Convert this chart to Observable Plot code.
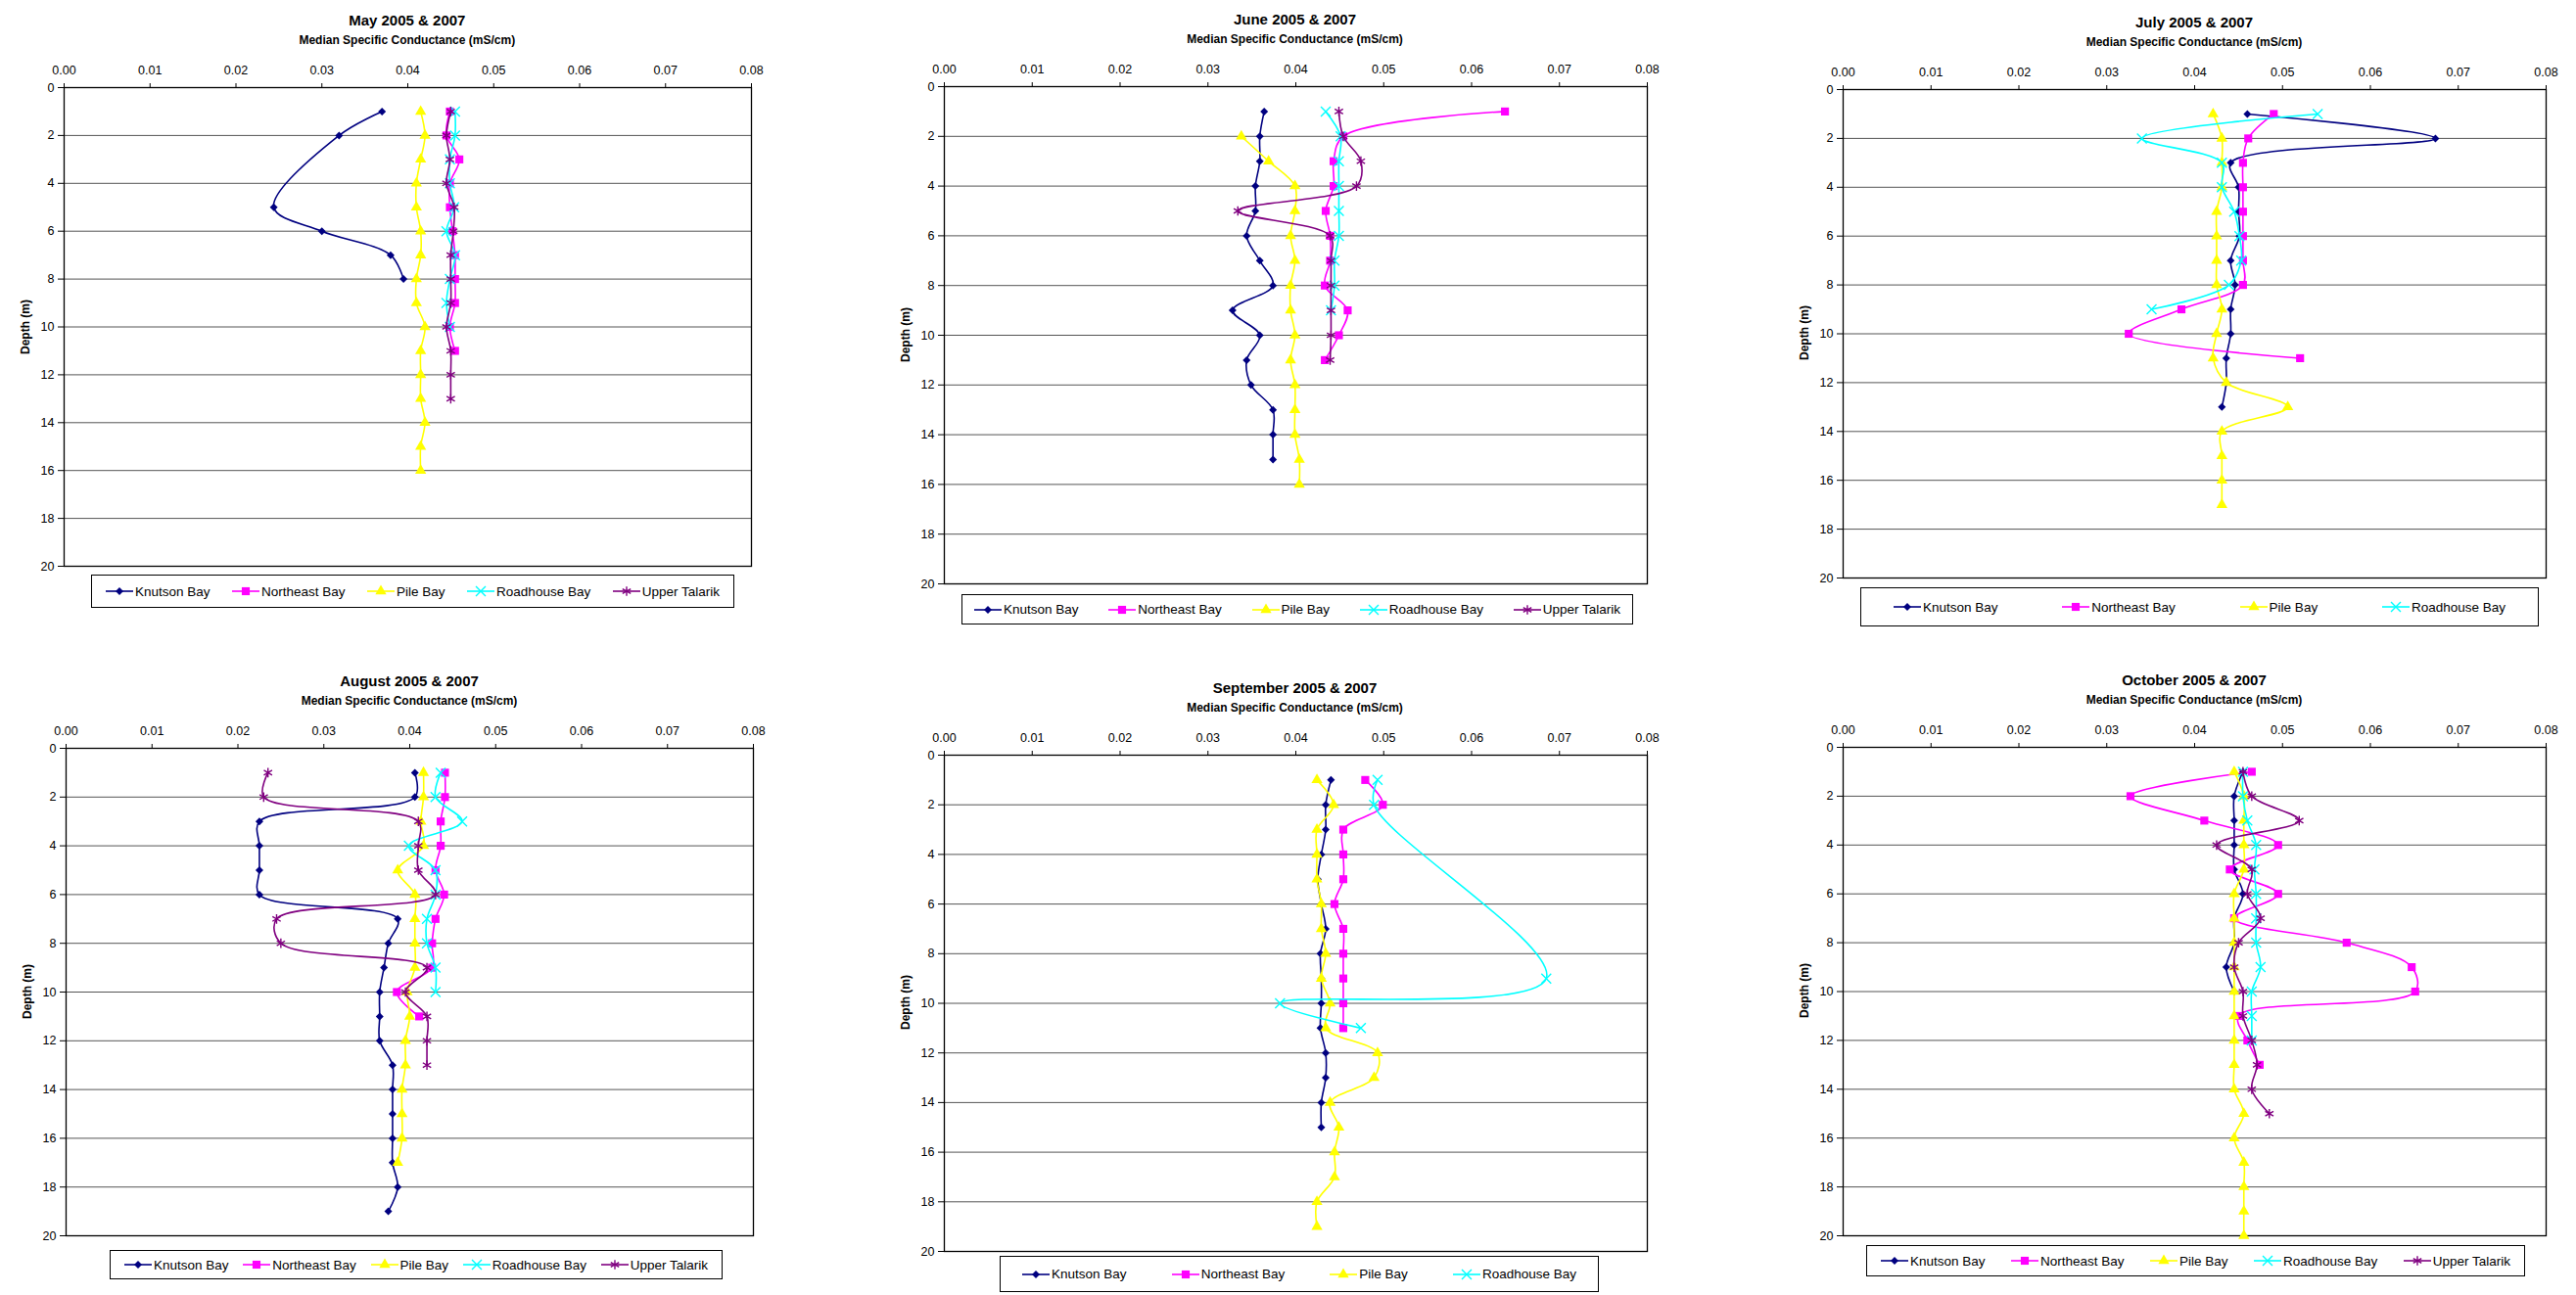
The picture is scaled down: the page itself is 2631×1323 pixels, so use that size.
<!DOCTYPE html>
<html><head><meta charset="utf-8">
<script src="https://cdn.jsdelivr.net/npm/d3@7"></script>
<script src="https://cdn.jsdelivr.net/npm/@observablehq/plot@0.6"></script>
<style>
html,body{margin:0;padding:0;background:#fff;}
#page{position:relative;width:2631px;height:1323px;overflow:hidden;font-family:"Liberation Sans",Arial,sans-serif;color:#000;background:#fff;}
.title{position:absolute;transform:translate(-50%,-50%);font-weight:bold;font-size:15px;white-space:nowrap;}
.subtitle{position:absolute;transform:translate(-50%,-50%);font-weight:bold;font-size:12px;white-space:nowrap;}
.ylabel{position:absolute;transform:translate(-50%,-50%) rotate(-90deg);font-weight:bold;font-size:12px;white-space:nowrap;}
.legend{position:absolute;box-sizing:border-box;border:1px solid #000;display:flex;align-items:center;justify-content:space-between;font-size:13.5px;background:#fff;}
.item{display:flex;align-items:center;white-space:nowrap;}
.item svg{margin-right:2px;overflow:visible;}
</style></head><body><div id="page"></div>
<script>
// ---------- axis ticks ----------
const conductanceTicks = [0, 0.01, 0.02, 0.03, 0.04, 0.05, 0.06, 0.07, 0.08];
const depthTicks = [0, 2, 4, 6, 8, 10, 12, 14, 16, 18, 20];
const gridDepths = [2, 4, 6, 8, 10, 12, 14, 16, 18];
const sites = ["Knutson Bay", "Northeast Bay", "Pile Bay", "Roadhouse Bay", "Upper Talarik"];

// ---------- data: [depth (m), median specific conductance (mS/cm)] ----------
// May 2005 & 2007
const mayKnutson = [[1,0.0370],[2,0.0320],[5,0.0244],[6,0.0300],[7,0.0380],[8,0.0395]];
const mayNortheast = [[1,0.0449],[2,0.0445],[3,0.0460],[4,0.0449],[5,0.0449],[6,0.0452],[7,0.0455],[8,0.0455],[9,0.0455],[10,0.0449],[11,0.0455]];
const mayPile = [[1,0.0415],[2,0.0420],[3,0.0415],[4,0.0410],[5,0.0410],[6,0.0415],[7,0.0415],[8,0.0410],[9,0.0410],[10,0.0420],[11,0.0415],[12,0.0415],[13,0.0415],[14,0.0420],[15,0.0415],[16,0.0415]];
const mayRoadhouse = [[1,0.0455],[2,0.0455],[3,0.0449],[4,0.0449],[5,0.0454],[6,0.0445],[7,0.0455],[8,0.0449],[9,0.0445],[10,0.0449]];
const mayUpperTalarik = [[1,0.0450],[2,0.0445],[3,0.0449],[4,0.0445],[5,0.0454],[6,0.0453],[7,0.0450],[8,0.0450],[9,0.0450],[10,0.0445],[11,0.0450],[12,0.0450],[13,0.0450]];
// June 2005 & 2007
const junKnutson = [[1,0.0364],[2,0.0359],[3,0.0359],[4,0.0354],[5,0.0354],[6,0.0344],[7,0.0359],[8,0.0374],[9,0.0328],[10,0.0359],[11,0.0344],[12,0.0349],[13,0.0374],[14,0.0374],[15,0.0374]];
const junNortheast = [[1,0.0638],[2,0.0454],[3,0.0443],[4,0.0443],[5,0.0434],[6,0.0439],[7,0.0439],[8,0.0433],[9,0.0459],[10,0.0449],[11,0.0433]];
const junPile = [[2,0.0338],[3,0.0369],[4,0.0399],[5,0.0399],[6,0.0394],[7,0.0399],[8,0.0394],[9,0.0394],[10,0.0399],[11,0.0394],[12,0.0399],[13,0.0399],[14,0.0399],[15,0.0404],[16,0.0404]];
const junRoadhouse = [[1,0.0434],[2,0.0451],[3,0.0449],[4,0.0449],[5,0.0449],[6,0.0449],[7,0.0444],[8,0.0444],[9,0.0440]];
const junUpperTalarik = [[1,0.0449],[2,0.0454],[3,0.0474],[4,0.0469],[5,0.0334],[6,0.0439],[7,0.0440],[8,0.0440],[9,0.0440],[10,0.0440],[11,0.0439]];
// July 2005 & 2007
const julKnutson = [[1,0.0460],[2,0.0674],[3,0.0441],[4,0.0450],[5,0.0450],[6,0.0451],[7,0.0441],[8,0.0446],[9,0.0441],[10,0.0441],[11,0.0436],[12,0.0436],[13,0.0431]];
const julNortheast = [[1,0.0490],[2,0.0461],[3,0.0455],[4,0.0455],[5,0.0455],[6,0.0455],[7,0.0455],[8,0.0455],[9,0.0385],[10,0.0325],[11,0.0520]];
const julPile = [[1,0.0421],[2,0.0431],[3,0.0431],[4,0.0431],[5,0.0425],[6,0.0425],[7,0.0425],[8,0.0425],[9,0.0431],[10,0.0425],[11,0.0421],[12,0.0436],[13,0.0506],[14,0.0431],[15,0.0431],[16,0.0431],[17,0.0431]];
const julRoadhouse = [[1,0.0540],[2,0.0340],[3,0.0431],[4,0.0431],[5,0.0445],[6,0.0451],[7,0.0453],[8,0.0439],[9,0.0351]];
// August 2005 & 2007
const augKnutson = [[1,0.0406],[2,0.0406],[3,0.0225],[4,0.0225],[5,0.0225],[6,0.0225],[7,0.0386],[8,0.0375],[9,0.0370],[10,0.0365],[11,0.0365],[12,0.0365],[13,0.0380],[14,0.0380],[15,0.0380],[16,0.0380],[17,0.0380],[18,0.0386],[19,0.0375]];
const augNortheast = [[1,0.0441],[2,0.0441],[3,0.0436],[4,0.0436],[5,0.0430],[6,0.0440],[7,0.0430],[8,0.0426],[9,0.0426],[10,0.0385],[11,0.0411]];
const augPile = [[1,0.0416],[2,0.0416],[3,0.0413],[4,0.0416],[5,0.0386],[6,0.0406],[7,0.0406],[8,0.0406],[9,0.0406],[10,0.0397],[11,0.0400],[12,0.0395],[13,0.0395],[14,0.0391],[15,0.0391],[16,0.0391],[17,0.0386]];
const augRoadhouse = [[1,0.0436],[2,0.0430],[3,0.0461],[4,0.0399],[5,0.0430],[6,0.0430],[7,0.0420],[8,0.0420],[9,0.0430],[10,0.0430]];
const augUpperTalarik = [[1,0.0235],[2,0.0230],[3,0.0410],[4,0.0410],[5,0.0410],[6,0.0430],[7,0.0245],[8,0.0250],[9,0.0420],[10,0.0395],[11,0.0420],[12,0.0420],[13,0.0420]];
// September 2005 & 2007
const sepKnutson = [[1,0.0440],[2,0.0434],[3,0.0434],[4,0.0429],[5,0.0425],[6,0.0429],[7,0.0434],[8,0.0428],[9,0.0429],[10,0.0429],[11,0.0428],[12,0.0434],[13,0.0434],[14,0.0429],[15,0.0429]];
const sepNortheast = [[1,0.0479],[2,0.0499],[3,0.0454],[4,0.0454],[5,0.0454],[6,0.0444],[7,0.0454],[8,0.0454],[9,0.0454],[10,0.0454],[11,0.0454]];
const sepPile = [[1,0.0424],[2,0.0443],[3,0.0424],[4,0.0424],[5,0.0424],[6,0.0429],[7,0.0429],[8,0.0434],[9,0.0429],[10,0.0439],[11,0.0434],[12,0.0493],[13,0.0489],[14,0.0439],[15,0.0449],[16,0.0444],[17,0.0444],[18,0.0424],[19,0.0424]];
const sepRoadhouse = [[1,0.0493],[2,0.0489],[9,0.0685],[10,0.0382],[11,0.0474]];
// October 2005 & 2007
const octKnutson = [[1,0.0455],[2,0.0445],[3,0.0445],[4,0.0445],[5,0.0445],[6,0.0455],[7,0.0445],[8,0.0445],[9,0.0436],[10,0.0445]];
const octNortheast = [[1,0.0465],[2,0.0327],[3,0.0411],[4,0.0495],[5,0.0440],[6,0.0495],[7,0.0445],[8,0.0573],[9,0.0647],[10,0.0651],[11,0.0450],[12,0.0460],[13,0.0474]];
const octPile = [[1,0.0445],[2,0.0456],[3,0.0456],[4,0.0456],[5,0.0456],[6,0.0445],[7,0.0445],[8,0.0445],[9,0.0445],[10,0.0445],[11,0.0445],[12,0.0445],[13,0.0445],[14,0.0445],[15,0.0456],[16,0.0445],[17,0.0456],[18,0.0456],[19,0.0456],[20,0.0456]];
const octRoadhouse = [[1,0.0455],[2,0.0455],[3,0.0460],[4,0.0470],[5,0.0468],[6,0.0470],[7,0.0470],[8,0.0470],[9,0.0475],[10,0.0465],[11,0.0465],[12,0.0465]];
const octUpperTalarik = [[1,0.0455],[2,0.0465],[3,0.0519],[4,0.0425],[5,0.0465],[6,0.0460],[7,0.0475],[8,0.0450],[9,0.0445],[10,0.0455],[11,0.0455],[12,0.0465],[13,0.0471],[14,0.0465],[15,0.0485]];

// ---------- styles ----------
const siteStyle = {
  "Knutson Bay":   {color: "#000080", symbol: "diamond2", r: 3.6, filled: true},
  "Northeast Bay": {color: "#FF00FF", symbol: "square",   r: 4.6, filled: true},
  "Pile Bay":      {color: "#FFFF00", symbol: "triangle", r: 4.2, filled: true},
  "Roadhouse Bay": {color: "#00FFFF", symbol: "times",    r: 4.6, filled: false},
  "Upper Talarik": {color: "#800080", symbol: "asterisk", r: 4.6, filled: false}
};
const d3Sym = {diamond2: d3.symbolDiamond2, square: d3.symbolSquare, triangle: d3.symbolTriangle, times: d3.symbolTimes, asterisk: d3.symbolAsterisk};

const panels = [
  {title: "May 2005 & 2007", x0: 64.8, x1: 766.8, y0: 89.3, y1: 578,
   series: [mayKnutson, mayNortheast, mayPile, mayRoadhouse, mayUpperTalarik], names: sites,
   legend: {l: 93, r: 750, t: 587, b: 621, pad: 14}},
  {title: "June 2005 & 2007", x0: 963.5, x1: 1681.5, y0: 87.6, y1: 595.6,
   series: [junKnutson, junNortheast, junPile, junRoadhouse, junUpperTalarik], names: sites,
   legend: {l: 982, r: 1668, t: 607, b: 638, pad: 12}},
  {title: "July 2005 & 2007", x0: 1882, x1: 2600, y0: 90.5, y1: 589,
   series: [julKnutson, julNortheast, julPile, julRoadhouse], names: sites.slice(0, 4),
   legend: {l: 1900, r: 2593, t: 600, b: 640, pad: 33}},
  {title: "August 2005 & 2007", x0: 67, x1: 769, y0: 763.5, y1: 1261.7,
   series: [augKnutson, augNortheast, augPile, augRoadhouse, augUpperTalarik], names: sites,
   legend: {l: 112, r: 738, t: 1277, b: 1307, pad: 14}},
  {title: "September 2005 & 2007", x0: 963.5, x1: 1681.5, y0: 770.6, y1: 1277.6,
   series: [sepKnutson, sepNortheast, sepPile, sepRoadhouse], names: sites.slice(0, 4),
   legend: {l: 1021, r: 1633, t: 1283, b: 1320, pad: 22}},
  {title: "October 2005 & 2007", x0: 1882, x1: 2600, y0: 762.8, y1: 1261.7,
   series: [octKnutson, octNortheast, octPile, octRoadhouse, octUpperTalarik], names: sites,
   legend: {l: 1906, r: 2579, t: 1272, b: 1304, pad: 14}}
];

const page = document.getElementById("page");
const FONT = '"Liberation Sans", Arial, sans-serif';

function addDiv(cls, text, x, y) {
  const d = document.createElement("div");
  d.className = cls; d.textContent = text;
  d.style.left = x + "px"; d.style.top = y + "px";
  page.appendChild(d);
}

for (const p of panels) {
  const ML = 70, MT = 34, MR = 8, MB = 6;
  const width = Math.round(ML + (p.x1 - p.x0) + MR);
  const height = Math.round(MT + (p.y1 - p.y0) + MB);
  const marks = [
    Plot.ruleY(gridDepths, {stroke: "#555", strokeWidth: 1}),
    Plot.frame({stroke: "#000", strokeWidth: 1.3}),
    Plot.axisX({anchor: "top", ticks: conductanceTicks, tickFormat: d3.format(".2f"), tickSize: 5, tickPadding: 9, label: null, stroke: "#000"}),
    Plot.axisY({anchor: "left", ticks: depthTicks, tickSize: 6, tickPadding: 4, label: null, stroke: "#000"})
  ];
  p.series.forEach((data, i) => {
    const s = siteStyle[p.names[i]];
    const rows = data.map(([d, v]) => ({depth: d, value: v}));
    marks.push(Plot.line(rows, {x: "value", y: "depth", stroke: s.color, strokeWidth: 1.6, curve: "catmull-rom"}));
    marks.push(Plot.dot(rows, {x: "value", y: "depth", symbol: s.symbol, r: s.r,
      fill: s.filled ? s.color : "none", stroke: s.filled ? "none" : s.color, strokeWidth: 1.4}));
  });
  const svg = Plot.plot({
    width, height, marginLeft: ML, marginTop: MT, marginRight: MR, marginBottom: MB,
    x: {domain: [0, 0.08]},
    y: {domain: [0, 20], reverse: true},
    style: {fontFamily: FONT, fontSize: "12.5px", color: "#000", background: "transparent", overflow: "visible"},
    marks
  });
  svg.style.position = "absolute";
  svg.style.left = (p.x0 - ML) + "px";
  svg.style.top = (p.y0 - MT) + "px";
  page.appendChild(svg);

  const cx = (p.x0 + p.x1) / 2;
  addDiv("title", p.title, cx, p.y0 - 69);
  addDiv("subtitle", "Median Specific Conductance (mS/cm)", cx, p.y0 - 48);
  addDiv("ylabel", "Depth (m)", p.x0 - 39, (p.y0 + p.y1) / 2);

  const lg = document.createElement("div");
  lg.className = "legend";
  lg.style.left = p.legend.l + "px"; lg.style.top = p.legend.t + "px";
  lg.style.width = (p.legend.r - p.legend.l) + "px"; lg.style.height = (p.legend.b - p.legend.t) + "px";
  lg.style.padding = "0 " + p.legend.pad + "px";
  for (const name of p.names) {
    const s = siteStyle[name];
    const item = document.createElement("div"); item.className = "item";
    const sv = d3.create("svg").attr("width", 28).attr("height", 14);
    sv.append("line").attr("x1", 0).attr("x2", 28).attr("y1", 7).attr("y2", 7).attr("stroke", s.color).attr("stroke-width", 1.6);
    sv.append("path").attr("transform", "translate(14,7)")
      .attr("d", d3.symbol(d3Sym[s.symbol], s.r * s.r * Math.PI)())
      .attr("fill", s.filled ? s.color : "none").attr("stroke", s.filled ? "none" : s.color).attr("stroke-width", 1.4);
    item.appendChild(sv.node());
    const t = document.createElement("span"); t.textContent = name;
    item.appendChild(t);
    lg.appendChild(item);
  }
  page.appendChild(lg);
}
</script>
</body></html>
